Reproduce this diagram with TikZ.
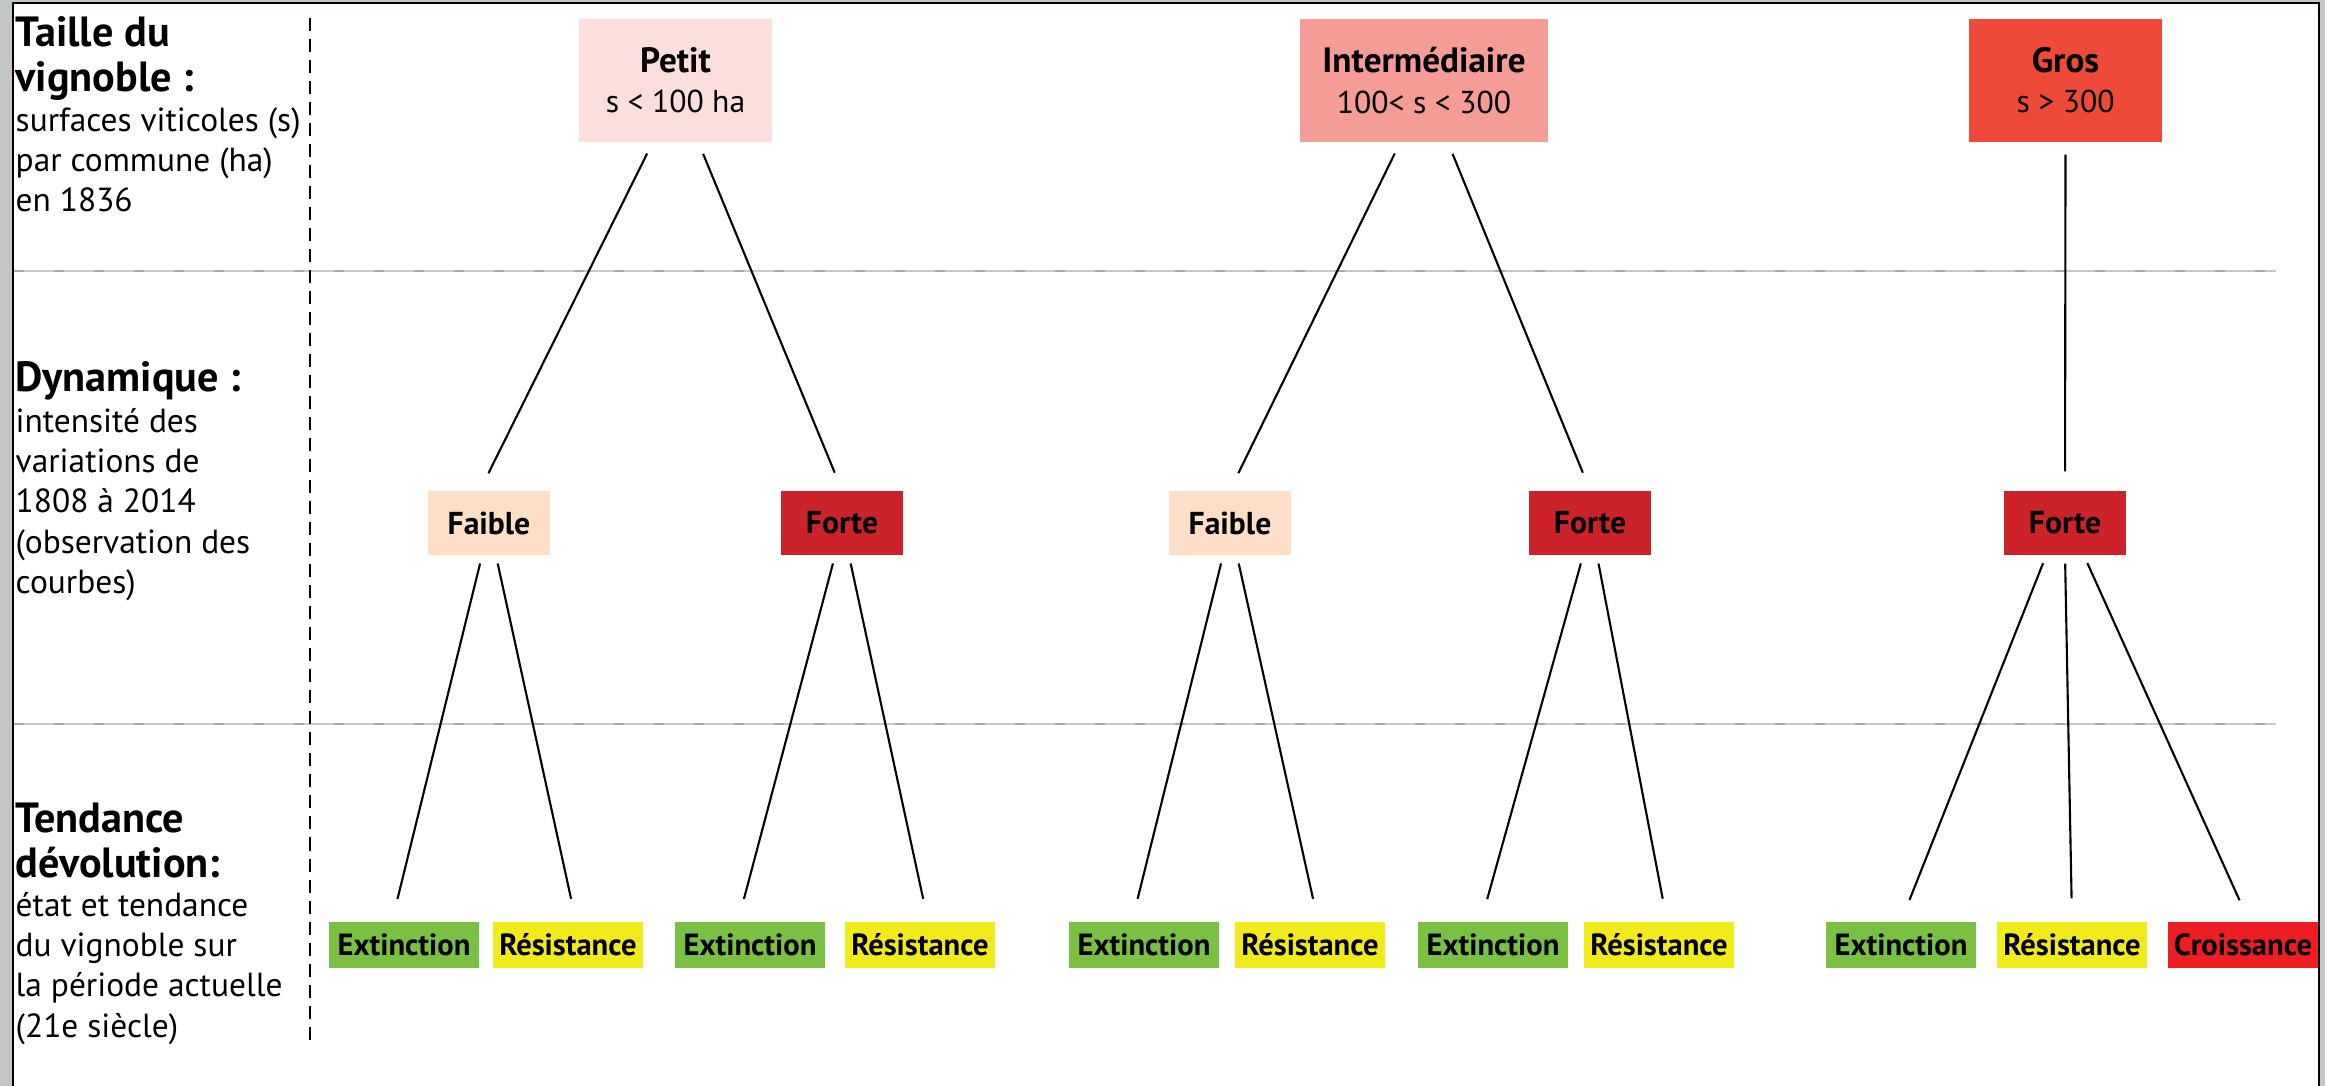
\documentclass[tikz,border=0pt]{standalone}
\usepackage{fontspec}
\setmainfont{PT Sans}

\definecolor{petitfill}{RGB}{252,222,221}
\definecolor{interfill}{RGB}{245,156,151}
\definecolor{grosfill}{RGB}{239,74,57}
\definecolor{faiblefill}{RGB}{253,222,199}
\definecolor{fortefill}{RGB}{204,34,42}
\definecolor{extfill}{RGB}{122,193,67}
\definecolor{resfill}{RGB}{242,235,26}
\definecolor{croisfill}{RGB}{237,29,36}
\definecolor{framegray}{RGB}{195,198,198}
\definecolor{sepgray}{RGB}{200,200,200}
\definecolor{dashgray}{RGB}{170,170,170}

\begin{document}
\begin{tikzpicture}[%
    x=0.01cm, y=-0.01cm,
    taille/.style={%
        inner sep=0pt,
        minimum width=1.93cm,
        minimum height=1.23cm,
        align=center,
        font=\fontsize{9}{11.4}\selectfont
    },
    dynamique/.style={%
        inner sep=0pt,
        minimum width=1.22cm,
        minimum height=0.64cm,
        font=\bfseries\fontsize{9}{11}\selectfont
    },
    tendance/.style={%
        inner sep=0pt,
        minimum width=1.49cm,
        minimum height=0.46cm,
        font=\bfseries\fontsize{8.7}{10}\selectfont
    },
    titre/.style={%
        anchor=north west,
        inner sep=0pt,
        align=left,
        font=\bfseries\fontsize{12}{12.8}\selectfont
    },
    legende/.style={%
        anchor=north west,
        inner sep=0pt,
        align=left,
        font=\fontsize{9.5}{11.4}\selectfont
    },
    lienA/.style={line width=0.6pt, shorten <=0.12cm, shorten >=0.19cm},
    lienB/.style={line width=0.6pt, shorten <=0.08cm, shorten >=0.23cm},
    separateur/.style={sepgray, line width=0.4pt},
    tirets/.style={dashgray, line width=0.6pt, dash pattern=on 0.1cm off 0.3cm}
]

% Frame
    \useasboundingbox (0,0) rectangle (2325,1086);
    \fill[framegray] (0,0) rectangle (2325,1086);
    \fill[white] (13,3) rectangle (2319,1086);
    \draw[line width=0.8pt] (13,1086) -- (13,3) -- (2319,3) -- (2319,1086);

% Separators
    \coordinate (sepA1) at (14,271);
    \coordinate (sepA2) at (2276,271);
    \coordinate (sepB1) at (14,724);
    \coordinate (sepB2) at (2276,724);
    \draw[separateur] (sepA1) -- (sepA2);
    \draw[tirets] (sepA1) -- (sepA2);
    \draw[separateur] (sepB1) -- (sepB2);
    \draw[tirets] (sepB1) -- (sepB2);
    \coordinate (colTop) at (310,18);
    \coordinate (colBottom) at (310,1040);
    \draw[line width=0.5pt, dash pattern=on 0.13cm off 0.08cm] (colTop) -- (colBottom);

% Left column
    \node[titre] (titreTaille) at (15,16) {Taille du\\vignoble :};
    \node[legende] (legTaille) at (15,107) {surfaces viticoles (s)\\par commune (ha)\\en 1836};
    \node[titre] (titreDyn) at (15,361) {Dynamique :};
    \node[legende] (legDyn) at (15,408) {intensité des\\variations de\\1808 à 2014\\(observation des\\courbes)};
    \node[titre] (titreTend) at (15,802) {Tendance\\dévolution:};
    \node[legende] (legTend) at (15,892) {état et tendance\\du vignoble sur\\la période actuelle\\(21e siècle)};

% Taille du vignoble
    \node[taille, fill=petitfill] (petit) at (675.5,80.5) {\textbf{\fontsize{10}{11.4}\selectfont Petit}\\s < 100 ha};
    \node[taille, fill=interfill, minimum width=2.47cm] (inter) at (1424,80.5) {\textbf{\fontsize{10}{11.4}\selectfont Intermédiaire}\\100< s < 300};
    \node[taille, fill=grosfill] (gros) at (2065.5,80.5) {\textbf{\fontsize{10}{11.4}\selectfont Gros}\\s > 300};

% Dynamique
    \node[dynamique, fill=faiblefill] (faible1) at (489,523) {Faible};
    \node[dynamique, fill=fortefill] (forte1) at (842,523) {Forte};
    \node[dynamique, fill=faiblefill] (faible2) at (1230,523) {Faible};
    \node[dynamique, fill=fortefill] (forte2) at (1590,523) {Forte};
    \node[dynamique, fill=fortefill] (forte3) at (2065,523) {Forte};

% Tendance
    \node[tendance, fill=extfill] (ext1) at (404,945) {Extinction};
    \node[tendance, fill=resfill] (res1) at (568,945) {Résistance};
    \node[tendance, fill=extfill] (ext2) at (750,945) {Extinction};
    \node[tendance, fill=resfill] (res2) at (920,945) {Résistance};
    \node[tendance, fill=extfill] (ext3) at (1144,945) {Extinction};
    \node[tendance, fill=resfill] (res3) at (1310,945) {Résistance};
    \node[tendance, fill=extfill] (ext4) at (1493,945) {Extinction};
    \node[tendance, fill=resfill] (res4) at (1659,945) {Résistance};
    \node[tendance, fill=extfill] (ext5) at (1901,945) {Extinction};
    \node[tendance, fill=resfill] (res5) at (2072,945) {Résistance};
    \node[tendance, fill=croisfill] (crois) at (2243,945) {Croissance};

% Links
\draw[lienA] ([shift={(-23,0)}]petit.south) -- ([shift={(-9,0)}]faible1.north);
\draw[lienA] ([shift={(23,0)}]petit.south) -- (forte1.north);
\draw[lienA] ([shift={(-24,0)}]inter.south) -- (faible2.north);
\draw[lienA] ([shift={(24,0)}]inter.south) -- (forte2.north);
\draw[lienA] (gros.south) -- (forte3.north);

\draw[lienB] ([shift={(-7,0)}]faible1.south) -- ([shift={(-12,0)}]ext1.north);
\draw[lienB] ([shift={(7,0)}]faible1.south) -- ([shift={(8,0)}]res1.north);
\draw[lienB] ([shift={(-7,0)}]forte1.south) -- ([shift={(-12,0)}]ext2.north);
\draw[lienB] ([shift={(7,0)}]forte1.south) -- ([shift={(8,0)}]res2.north);
\draw[lienB] ([shift={(-7,0)}]faible2.south) -- ([shift={(-12,0)}]ext3.north);
\draw[lienB] ([shift={(7,0)}]faible2.south) -- ([shift={(8,0)}]res3.north);
\draw[lienB] ([shift={(-7,0)}]forte2.south) -- ([shift={(-12,0)}]ext4.north);
\draw[lienB] ([shift={(7,0)}]forte2.south) -- ([shift={(8,0)}]res4.north);
\draw[lienB] ([shift={(-19,0)}]forte3.south) -- (ext5.north);
\draw[lienB] (forte3.south) -- (res5.north);
\draw[lienB] ([shift={(19,0)}]forte3.south) -- ([shift={(6,0)}]crois.north);

\end{tikzpicture}
\end{document}
